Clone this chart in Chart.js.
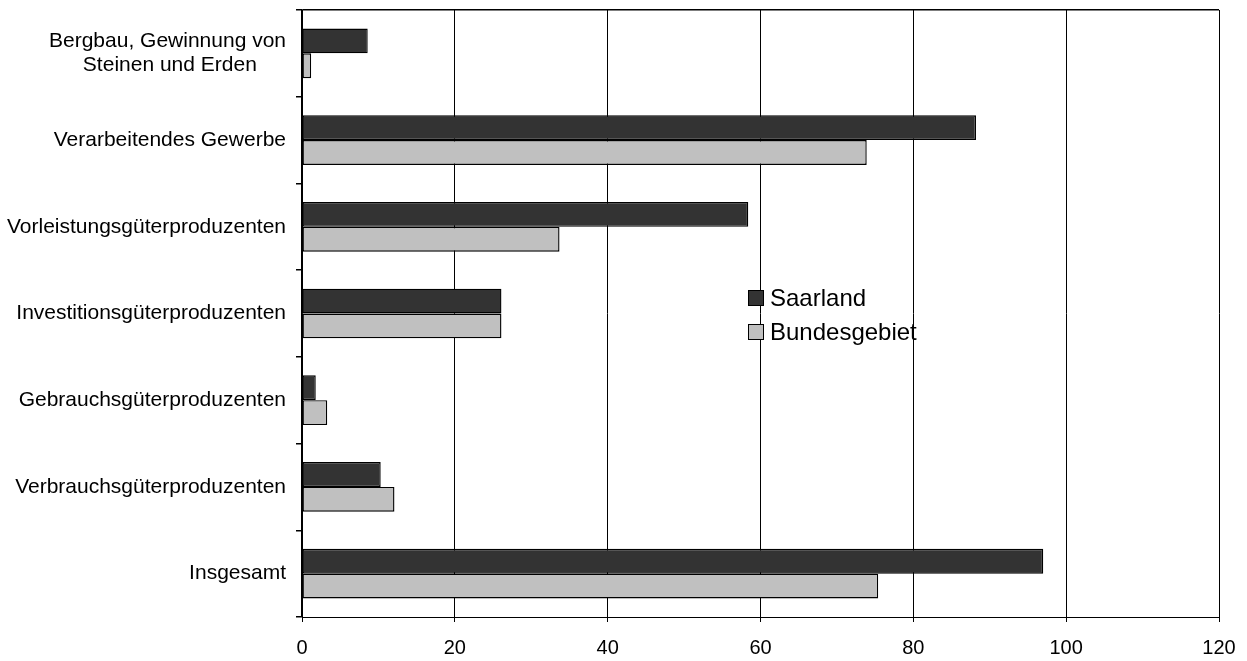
<!DOCTYPE html>
<html>
<head>
<meta charset="utf-8">
<script src="https://cdn.jsdelivr.net/npm/chart.js@4"></script>
<style>
  html, body { margin: 0; padding: 0; background: #fff; }
  #wrap { position: relative; width: 1247px; height: 661px; }
  #legend { position: absolute; left: 748px; top: 281px; font-family: "Liberation Sans", Arial, sans-serif; font-size: 24px; color: #000; }
  #legend .row { display: flex; align-items: center; height: 34px; }
  #legend .box { width: 14px; height: 14px; border: 1px solid #000; margin-right: 6px; }
</style>
</head>
<body>
<div id="wrap">
  <canvas id="chart" width="1247" height="661"></canvas>
  <div id="legend"></div>
</div>
<script>
// categories (second line of the first label padded so both lines look centred)
var categories = [
  ['Bergbau, Gewinnung von', 'Steinen und Erden     '],
  'Verarbeitendes Gewerbe',
  'Vorleistungsgüterproduzenten',
  'Investitionsgüterproduzenten',
  'Gebrauchsgüterproduzenten',
  'Verbrauchsgüterproduzenten',
  'Insgesamt'
];
var seriesNames = ['Saarland', 'Bundesgebiet'];
var saarland = [8.6, 88.2, 58.4, 26.1, 1.8, 10.3, 97.0];
var bundesgebiet = [1.2, 73.9, 33.7, 26.1, 3.3, 12.1, 75.4];
var xTicks = [0, 20, 40, 60, 80, 100, 120];

var colors = ['#333333', '#c0c0c0'];
var font = 'Liberation Sans, Arial, sans-serif';

function makeSet(label, data, color) {
  return {
    label: label,
    data: data,
    backgroundColor: color,
    borderColor: '#000',
    borderWidth: 1.4,
    borderSkipped: false,
    categoryPercentage: 0.573,
    barPercentage: 1.0
  };
}

var ctx = document.getElementById('chart').getContext('2d');
var chart = new Chart(ctx, {
  type: 'bar',
  data: {
    labels: categories,
    datasets: [
      makeSet(seriesNames[0], saarland, colors[0]),
      makeSet(seriesNames[1], bundesgebiet, colors[1])
    ]
  },
  options: {
    indexAxis: 'y',
    responsive: false,
    animation: false,
    devicePixelRatio: 1,
    layout: { padding: { top: 10, right: 28, left: 0, bottom: 0 } },
    plugins: {
      legend: { display: false },
      tooltip: { enabled: false }
    },
    scales: {
      x: {
        min: 0,
        max: 120,
        afterFit: function (s) { s.height = 44; s.paddingLeft = 0; s.paddingRight = 0; },
        afterBuildTicks: function (s) { s.ticks = xTicks.map(function (v) { return { value: v }; }); },
        grid: { color: '#000', lineWidth: 1, tickLength: 5, tickColor: '#000' },
        border: { color: '#000', width: 1 },
        ticks: { color: '#000', font: { family: font, size: 20 }, padding: 14, maxRotation: 0 }
      },
      y: {
        afterFit: function (s) { s.width = 302; s.paddingTop = 0; s.paddingBottom = 0; },
        grid: {
          offset: true,
          color: function (c) { return c.index === 0 ? '#000' : 'rgba(0,0,0,0)'; },
          lineWidth: 1.5,
          tickLength: 6,
          tickColor: '#000'
        },
        border: { color: '#000', width: 1.5 },
        ticks: { color: '#000', font: { family: font, size: 21, lineHeight: 1.15 }, padding: 10 }
      }
    }
  }
});

// LEGEND (html, built from the datasets)
var legend = document.getElementById('legend');
chart.data.datasets.forEach(function (ds) {
  var row = document.createElement('div');
  row.className = 'row';
  var box = document.createElement('span');
  box.className = 'box';
  box.style.background = ds.backgroundColor;
  var txt = document.createElement('span');
  txt.textContent = ds.label;
  row.appendChild(box);
  row.appendChild(txt);
  legend.appendChild(row);
});
</script>
</body>
</html>
